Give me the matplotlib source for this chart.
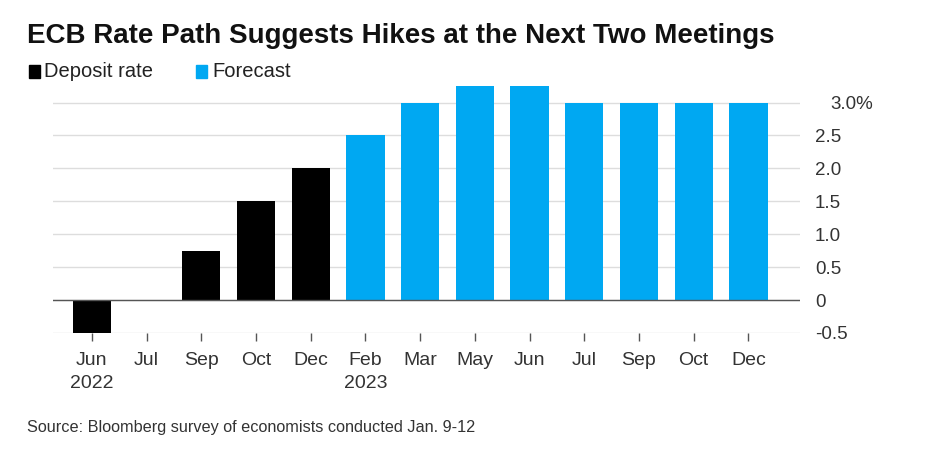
import matplotlib
matplotlib.use("Agg")
import matplotlib.pyplot as plt
import matplotlib.transforms as mtransforms
from matplotlib.patches import Rectangle

# Data
months = ["Jun\n2022", "Jul", "Sep", "Oct", "Dec", "Feb\n2023", "Mar", "May",
          "Jun", "Jul", "Sep", "Oct", "Dec"]
deposit = [-0.5, 0.0, 0.75, 1.5, 2.0]
forecast = [2.5, 3.0, 3.25, 3.25, 3.0, 3.0, 3.0, 3.0]
yticks = [-0.5, 0, 0.5, 1.0, 1.5, 2.0, 2.5, 3.0]
ytick_labels = ["-0.5", "0", "0.5", "1.0", "1.5", "2.0", "2.5", "3.0%"]

BLACK = "#000000"
BLUE = "#00a8f2"
TEXT = "#333333"

plt.rcParams["font.family"] = ["Liberation Sans", "DejaVu Sans"]

fig = plt.figure(figsize=(9.3, 4.65), dpi=100)
ax = fig.add_axes([0.057, 0.284, 0.803, 0.538])

x_dep = list(range(len(deposit)))
x_fc = list(range(len(deposit), len(months)))
ax.bar(x_dep, deposit, width=0.7, color=BLACK, zorder=3)
ax.bar(x_fc, forecast, width=0.7, color=BLUE, zorder=3)

ax.set_xlim(-0.71, 12.94)
ax.set_ylim(-0.5, 3.3)

ax.set_yticks(yticks)
ax.set_yticklabels(ytick_labels)
ax.yaxis.tick_right()
ax.tick_params(axis="y", length=0, pad=11, labelsize=13.5, labelcolor=TEXT)
# the top label sits a little further right, as in the original
top = ax.get_yticklabels()[-1]
top.set_transform(top.get_transform() +
                  mtransforms.ScaledTranslation(15 / 100, 0, fig.dpi_scale_trans))
ax.grid(axis="y", color="#dddddd", linewidth=1, zorder=0)
ax.axhline(0, color="#555555", linewidth=1, zorder=4)

ax.set_xticks(range(len(months)))
ax.set_xticklabels(months)
ax.tick_params(axis="x", length=6, width=1, color="#555555", pad=8,
               labelsize=14, labelcolor=TEXT)
for lbl in ax.get_xticklabels():
    lbl.set_linespacing(1.4)

for s in ax.spines.values():
    s.set_visible(False)

fig.text(0.029, 0.923, "ECB Rate Path Suggests Hikes at the Next Two Meetings",
         fontsize=20, fontweight="bold", color="#111111", va="center")

# legend
fig.patches.append(Rectangle((0.031, 0.832), 0.012, 0.028, transform=fig.transFigure,
                             color=BLACK, figure=fig))
fig.text(0.047, 0.846, "Deposit rate", fontsize=14.5, color="#222222", va="center")
fig.patches.append(Rectangle((0.211, 0.832), 0.012, 0.028, transform=fig.transFigure,
                             color=BLUE, figure=fig))
fig.text(0.228, 0.846, "Forecast", fontsize=14.5, color="#222222", va="center")

fig.text(0.029, 0.08, "Source: Bloomberg survey of economists conducted Jan. 9-12",
         fontsize=11.7, color=TEXT, va="center")

fig.savefig("out.png", dpi=100)
